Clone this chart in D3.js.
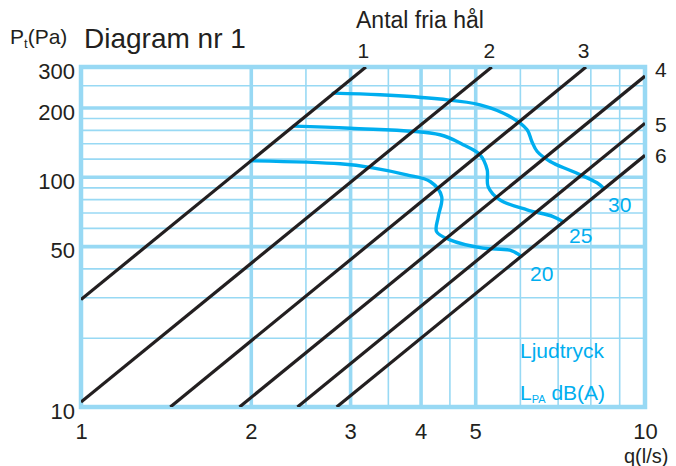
<!DOCTYPE html>
<html>
<head>
<meta charset="utf-8">
<script src="https://cdn.jsdelivr.net/npm/d3@7/dist/d3.min.js"></script>
<style>
  html, body { margin: 0; padding: 0; background: #fff; }
  svg { display: block; font-family: "Liberation Sans", Arial, Helvetica, sans-serif; }
</style>
</head>
<body>
<svg id="chart" width="676" height="466"></svg>
<script>
// ---------- data ----------
const xTickValues = [1, 2, 3, 4, 5, 10];
const yTickValues = [10, 50, 100, 200, 300];
const xMajorGrid = [2, 3, 4, 5];
const xMinorGrid = [2.5, 3.5, 4.5, 6, 7, 8, 9];
const yMajorGrid = [50, 100, 200];
const yMinorGrid = [20, 30, 40, 60, 70, 80, 90, 120, 140, 160, 180, 250];

// number of open holes: line endpoints [q (l/s), Pt (Pa)]
const holeLabels = ["1", "2", "3", "4", "5", "6"];
const holeLines = [
  [[1, 29.3], [3.2, 300]],
  [[1, 10.5], [5.35, 300]],
  [[1.44, 10], [7.86, 300]],
  [[1.91, 10], [10, 274]],
  [[2.42, 10], [10, 171]],
  [[2.84, 10], [10, 124]]
];

// sound pressure curves LPA dB(A): points [q, Pt]
const dbLabels = ["20", "25", "30"];
const db20 = [[2.0, 117.4], [2.88, 113.9], [3.29, 109.4], [3.78, 102.0], [4.16, 95.4],
              [4.36, 82.1], [4.30, 67.2], [4.27, 57.8], [4.51, 53.2], [5.16, 49.0],
              [5.76, 48.0], [6.03, 45.2]];
const db25 = [[2.38, 166], [3.0, 162.5], [4.33, 152.3], [4.76, 137.8], [5.10, 124.6],
              [5.25, 107.3], [5.27, 90.7], [5.53, 79.4], [6.18, 71.9], [6.87, 67.2],
              [7.16, 63.8]];
const db30 = [[2.80, 231], [3.39, 227.3], [4.33, 217.7], [5.10, 205.6], [5.76, 182.9],
              [6.18, 160.1], [6.30, 142.4], [6.44, 128.8], [6.79, 116.6], [7.45, 105.4],
              [8.22, 94.2], [8.45, 89.0]];
const dbCurves = [db20, db25, db30];

// ---------- layout ----------
const L = 81, R = 645, T = 67, B = 407;
const gridColor = "#98d9f4";
const blue = "#00aeef";
const ink = "#231f20";

const svg = d3.select("#chart");
const x = d3.scaleLog().domain([1, 10]).range([L, R]);
const y = d3.scaleLog().domain([10, 300]).range([B, T]);

// grid via axes
function gridX(vals, w) {
  const g = svg.append("g").attr("transform", `translate(0,${B})`)
    .call(d3.axisBottom(x).tickValues(vals).tickSize(-(B - T)).tickFormat(""));
  g.select(".domain").remove();
  g.selectAll("line").attr("stroke", gridColor).attr("stroke-width", w);
}
function gridY(vals, w) {
  const g = svg.append("g").attr("transform", `translate(${L},0)`)
    .call(d3.axisLeft(y).tickValues(vals).tickSize(-(R - L)).tickFormat(""));
  g.select(".domain").remove();
  g.selectAll("line").attr("stroke", gridColor).attr("stroke-width", w);
}
gridX(xMinorGrid, 1.6);
gridY(yMinorGrid, 1.6);
gridX(xMajorGrid, 3.6);
gridY(yMajorGrid, 3.6);
svg.append("rect").attr("x", L).attr("y", T).attr("width", R - L).attr("height", B - T)
  .attr("fill", "none").attr("stroke", gridColor).attr("stroke-width", 4.5);

// clip
svg.append("clipPath").attr("id", "plotclip").append("rect")
  .attr("x", L).attr("y", T).attr("width", R - L).attr("height", B - T);

// dB curves
const curveLine = d3.line().x(d => x(d[0])).y(d => y(d[1])).curve(d3.curveCatmullRom.alpha(0.5));
svg.append("g").attr("clip-path", "url(#plotclip)")
  .selectAll("path").data(dbCurves).join("path")
  .attr("d", curveLine).attr("fill", "none").attr("stroke", blue)
  .attr("stroke-width", 3.4).attr("stroke-linecap", "round");

// hole lines
const straight = d3.line().x(d => x(d[0])).y(d => y(d[1]));
svg.append("g").attr("clip-path", "url(#plotclip)")
  .selectAll("path").data(holeLines).join("path")
  .attr("d", straight).attr("fill", "none").attr("stroke", ink).attr("stroke-width", 3.2);

// axes tick labels
const fs = 22;
const xa = svg.append("g").attr("transform", `translate(0,${B})`)
  .call(d3.axisBottom(x).tickValues(xTickValues).tickSize(0).tickFormat(d3.format("d")));
xa.select(".domain").remove();
xa.selectAll("text").attr("y", 32).attr("dy", 0).attr("fill", ink)
  .attr("font-size", fs).attr("font-family", "Liberation Sans, Arial, sans-serif");

const ya = svg.append("g").attr("transform", `translate(${L},0)`)
  .call(d3.axisLeft(y).tickValues(yTickValues).tickSize(0).tickFormat(d3.format("d")));
ya.select(".domain").remove();
ya.selectAll("text").attr("x", -6).attr("dy", 11.5).attr("fill", ink)
  .attr("font-size", fs).attr("font-family", "Liberation Sans, Arial, sans-serif");

// hole labels
const topLabelPos = [[-2.5, 58], [-2.5, 58], [-2.5, 58]];
holeLabels.forEach((lab, i) => {
  const end = holeLines[i][1];
  if (i < 3) {
    svg.append("text").attr("x", x(end[0]) + topLabelPos[i][0]).attr("y", topLabelPos[i][1])
      .attr("text-anchor", "middle").attr("font-size", 21).attr("fill", ink).text(lab);
  }
});
const rightLabelY = [77, 132, 163];
holeLabels.slice(3).forEach((lab, i) => {
  svg.append("text").attr("x", 655).attr("y", rightLabelY[i])
    .attr("font-size", 21).attr("fill", ink).text(lab);
});

// dB labels
const dbLabelPos = [[530, 281], [569, 243], [608, 212]];
dbLabels.forEach((lab, i) => {
  svg.append("text").attr("x", dbLabelPos[i][0]).attr("y", dbLabelPos[i][1])
    .attr("font-size", 21).attr("fill", blue).text(lab);
});

// titles
const pt = svg.append("text").attr("x", 10).attr("y", 44).attr("font-size", 21).attr("fill", ink);
pt.append("tspan").text("P");
pt.append("tspan").attr("font-size", 13).attr("dy", 4).text("t");
pt.append("tspan").attr("dy", -4).text("(Pa)");

svg.append("text").attr("x", 84).attr("y", 48).attr("font-size", 28).attr("fill", ink).text("Diagram nr 1");
svg.append("text").attr("x", 356).attr("y", 28).attr("font-size", 23).attr("fill", ink).text("Antal fria hål");
svg.append("text").attr("x", 624).attr("y", 463).attr("font-size", 20).attr("fill", ink).text("q(l/s)");

svg.append("text").attr("x", 520).attr("y", 358).attr("font-size", 21).attr("fill", blue).text("Ljudtryck");
const lpa = svg.append("text").attr("x", 520).attr("y", 400).attr("font-size", 21).attr("fill", blue);
lpa.append("tspan").text("L");
lpa.append("tspan").attr("font-size", 11).attr("dy", 3).text("PA");
lpa.append("tspan").attr("dy", -3).text(" dB(A)");
</script>
</body>
</html>
